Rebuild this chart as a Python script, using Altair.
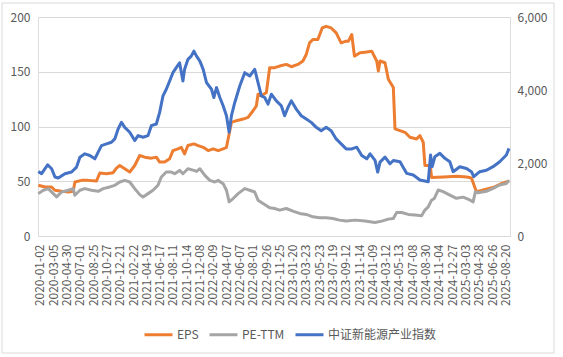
import altair as alt
import pandas as pd

tick_labels = ["2020-01-02", "2020-03-05", "2020-04-30", "2020-07-01", "2020-08-25", "2020-10-27",
               "2020-12-21", "2021-02-22", "2021-04-19", "2021-06-17", "2021-08-11", "2021-10-14",
               "2021-12-08", "2022-02-09", "2022-04-07", "2022-06-07", "2022-08-01", "2022-09-26",
               "2022-11-25", "2023-01-20", "2023-03-23", "2023-05-23", "2023-07-19", "2023-09-12",
               "2023-11-14", "2024-01-09", "2024-03-12", "2024-05-13", "2024-07-08", "2024-08-30",
               "2024-11-04", "2024-12-27", "2025-03-03", "2025-04-28", "2025-06-26", "2025-08-20"]

series_names = ["EPS", "PE-TTM", "中证新能源产业指数"]
series_colors = ["#ED7D31", "#A5A5A5", "#4472C4"]

eps_day = [1, 21, 41, 51, 71, 91, 106, 111, 131, 151, 176, 186, 206, 226, 236, 246, 261, 276, 291, 306,
           321, 341, 356, 366, 381, 396, 406, 421, 431, 441, 451, 469, 482, 497, 512, 527, 542, 557,
           567, 573, 582, 597, 617, 632, 647, 657, 662, 672, 687, 697, 712, 727, 747, 762, 782, 797,
           807, 817, 827, 842, 855, 867, 882, 897, 912, 927, 934, 944, 952, 969, 984, 1004, 1019, 1024,
           1029, 1044, 1054, 1069, 1074, 1089, 1104, 1119, 1139, 1149, 1159, 1164, 1180, 1184, 1220,
           1260, 1290, 1304, 1319, 1334, 1354, 1374, 1394, 1409, 1417]
eps_val = [46.3, 44.8, 44.8, 41.8, 40.8, 40.2, 40.8, 49.3, 50.8, 50.8, 50.2, 57.5, 56.9, 57.8, 62.0,
           64.4, 61.4, 58.4, 64.4, 73.5, 72.0, 71.1, 72.0, 67.5, 67.5, 70.5, 78.0, 79.6, 81.0, 75.0,
           82.6, 84.1, 82.6, 81.0, 78.0, 79.6, 78.0, 79.6, 81.0, 90.2, 103.8, 105.3, 106.8, 108.3,
           114.4, 118.9, 129.5, 128.0, 131.0, 153.7, 153.7, 155.2, 156.7, 154.6, 156.7, 159.8, 165.8,
           176.4, 179.4, 179.4, 190.0, 191.5, 190.0, 185.5, 176.4, 177.9, 177.9, 184.0, 164.3, 167.3,
           167.9, 168.8, 159.8, 150.7, 159.8, 158.2, 143.1, 135.6, 97.8, 96.2, 94.7, 90.2, 88.6, 91.7,
           85.6, 64.4, 64.4, 53.5, 53.9, 54.5, 53.9, 53.0, 40.5, 41.5, 43.3, 44.8, 47.8, 49.3, 50.0]

pe_day = [1, 16, 31, 46, 56, 71, 91, 106, 111, 126, 141, 161, 181, 196, 216, 231, 246, 261, 276, 291,
          306, 316, 331, 346, 361, 371, 386, 401, 411, 426, 436, 451, 469, 477, 487, 502, 517, 532,
          542, 557, 567, 575, 587, 602, 622, 637, 652, 662, 677, 697, 712, 727, 747, 767, 787, 807,
          827, 847, 867, 887, 907, 927, 954, 984, 1014, 1034, 1054, 1069, 1079, 1094, 1114, 1134,
          1154, 1164, 1174, 1184, 1192, 1204, 1219, 1239, 1259, 1279, 1299, 1309, 1316, 1324, 1349,
          1369, 1389, 1409, 1417]
pe_val = [38.7, 41.8, 43.3, 38.7, 35.7, 40.2, 41.8, 43.3, 37.2, 41.8, 43.3, 41.8, 40.8, 43.3, 44.8,
          46.3, 49.3, 50.8, 49.3, 43.3, 37.8, 35.7, 38.7, 41.8, 46.3, 53.9, 58.4, 58.4, 56.9, 59.9,
          56.9, 61.4, 59.9, 59.0, 61.4, 55.4, 50.8, 49.3, 50.8, 47.8, 41.8, 31.2, 34.2, 38.7, 43.3,
          41.8, 40.2, 32.7, 29.7, 25.7, 25.1, 23.6, 25.1, 22.7, 20.6, 19.7, 17.5, 16.6, 16.6, 16.0,
          14.5, 13.6, 14.5, 13.6, 12.4, 13.6, 15.4, 16.0, 21.5, 21.5, 19.7, 19.1, 18.5, 23.7, 26.6,
          32.7, 34.2, 42.0, 40.5, 37.4, 34.4, 35.5, 32.9, 31.2, 40.5, 39.5, 40.8, 43.5, 46.6, 48.0,
          51.0]

idx_day = [1, 11, 29, 41, 51, 61, 81, 101, 116, 126, 141, 156, 171, 181, 191, 206, 221, 231, 241, 251,
           261, 276, 291, 301, 316, 331, 341, 356, 366, 376, 386, 396, 406, 416, 426, 436, 441, 451,
           461, 469, 477, 487, 497, 507, 522, 529, 537, 547, 557, 567, 575, 582, 592, 607, 622, 637,
           652, 662, 672, 682, 692, 702, 717, 732, 742, 752, 762, 777, 792, 807, 822, 837, 852, 867,
           882, 897, 912, 927, 944, 959, 974, 989, 999, 1014, 1022, 1029, 1044, 1059, 1069, 1089,
           1109, 1129, 1149, 1174, 1181, 1186, 1194, 1209, 1224, 1239, 1249, 1269, 1289, 1304, 1311,
           1329, 1349, 1369, 1389, 1409, 1417]
idx_val = [1770, 1707, 1952, 1843, 1616, 1589, 1707, 1752, 1888, 2160, 2251, 2206, 2115, 2297, 2478,
           2523, 2569, 2660, 2932, 3113, 2977, 2841, 2614, 2750, 2705, 2750, 3022, 3068, 3386, 3840,
           4021, 4248, 4475, 4611, 4747, 4248, 4566, 4838, 4928, 5065, 4928, 4792, 4566, 4203, 4021,
           3794, 4066, 3794, 3567, 3295, 2841, 3295, 3658, 4111, 4475, 4384, 4566, 4203, 3840, 3794,
           3613, 3885, 3703, 3567, 3295, 3522, 3703, 3476, 3295, 3204, 3113, 2977, 2886, 2977, 2886,
           2660, 2523, 2387, 2387, 2433, 2206, 2115, 2251, 2070, 1752, 2024, 2160, 1979, 2070, 2036,
           1717, 1670, 1534, 1488, 2219, 1899, 2173, 2265, 2128, 2036, 1762, 1899, 1850, 1762, 1625,
           1762, 1800, 1899, 2036, 2219, 2402]

left_df = pd.concat([
    pd.DataFrame({"day": eps_day, "value": eps_val, "series": series_names[0]}),
    pd.DataFrame({"day": pe_day, "value": pe_val, "series": series_names[1]}),
], ignore_index=True)
right_df = pd.DataFrame({"day": idx_day, "value": idx_val, "series": series_names[2]})

OFFSET = 6
tick_vals = [OFFSET + 40 * k for k in range(len(tick_labels))]
label_expr = "[" + ",".join("'%s'" % t for t in tick_labels) + "][round((datum.value - %d) / 40)]" % OFFSET

FONT = "Noto Sans CJK SC"
TXT = "#595959"

x_enc = alt.X("day:Q", scale=alt.Scale(domain=[0, 1420], nice=False, zero=False),
              axis=alt.Axis(values=tick_vals, labelExpr=label_expr, labelAngle=270,
                            labelAlign="right", labelBaseline="middle", grid=False, ticks=False,
                            domain=False, labelPadding=8, title=None, labelFontSize=12,
                            labelColor=TXT, labelFlush=False, labelOverlap=False, labelFont=FONT))

color_enc = alt.Color("series:N",
                      scale=alt.Scale(domain=series_names, range=series_colors),
                      legend=alt.Legend(title=None, orient="none", legendX=105, legendY=302,
                                        direction="horizontal", symbolType="stroke",
                                        symbolStrokeWidth=3, symbolSize=784, labelFontSize=12,
                                        labelColor=TXT, labelFont=FONT, labelOffset=3,
                                        columnPadding=4))

border = alt.Chart(pd.DataFrame({"a": [0]})).mark_rect(
    fillOpacity=0, stroke="#d9d9d9", strokeWidth=1
).encode(x=alt.value(-36), x2=alt.value(516), y=alt.value(-14), y2=alt.value(336))

left = alt.Chart(left_df).mark_line(strokeWidth=3, strokeJoin="round").encode(
    x=x_enc,
    y=alt.Y("value:Q", scale=alt.Scale(domain=[0, 200], nice=False),
            axis=alt.Axis(orient="left", values=[0, 50, 100, 150, 200], title=None, ticks=False,
                          domain=False, labelPadding=8, labelFontSize=12, labelColor=TXT,
                          labelFont=FONT, grid=True, gridColor="#d9d9d9", gridWidth=1)),
    color=color_enc,
)

right = alt.Chart(right_df).mark_line(strokeWidth=3, strokeJoin="round").encode(
    x=x_enc,
    y=alt.Y("value:Q", scale=alt.Scale(domain=[0, 6000], nice=False),
            axis=alt.Axis(orient="right", values=[0, 2000, 4000, 6000], format=",.0f", title=None,
                          ticks=False, domain=False, labelPadding=7, labelFontSize=12,
                          labelColor=TXT, labelFont=FONT, grid=False)),
    color=color_enc,
)

chart = alt.layer(border, left, right).resolve_scale(y="independent").properties(
    width=472, height=219,
    padding={"left": 38, "top": 17, "right": 53, "bottom": 121},
    autosize=alt.AutoSizeParams(type="none"),
).configure_view(stroke=None).configure(font=FONT)

chart.save("out.html", embed_options={"renderer": "svg", "actions": False})
